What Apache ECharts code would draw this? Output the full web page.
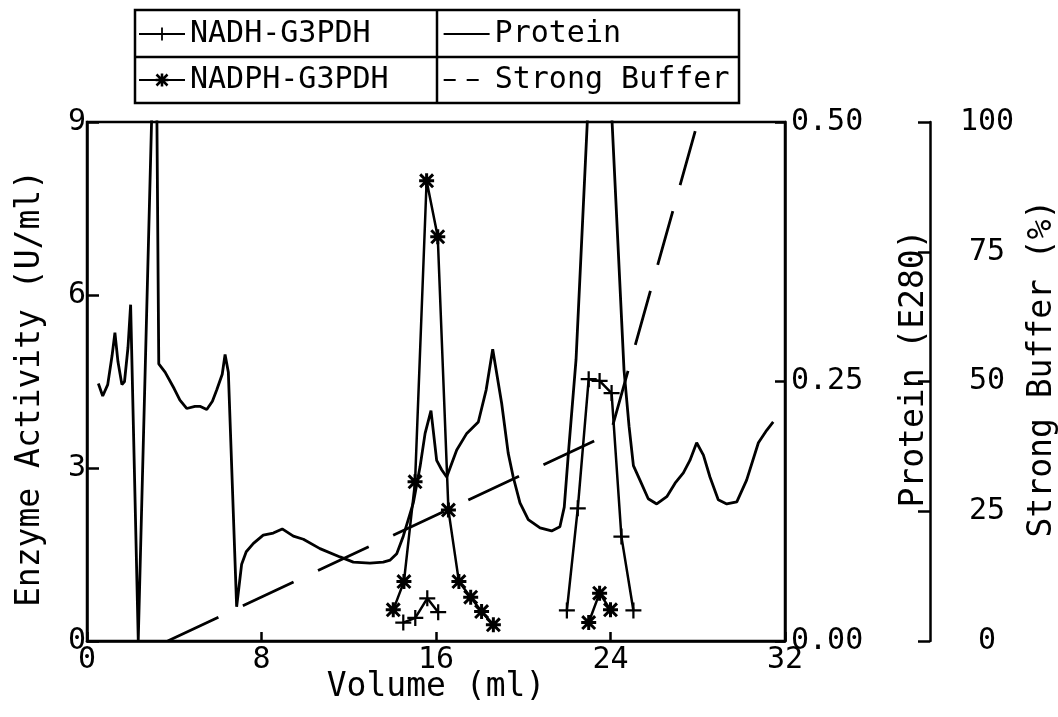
<!DOCTYPE html>
<html><head><meta charset="utf-8">
<script src="https://cdn.jsdelivr.net/npm/echarts@6/dist/echarts.min.js"></script>
<style>html,body{margin:0;padding:0;background:#fff}#chart{width:1058px;height:717px}</style>
</head><body><div id="chart"></div>
<script>
// ---- data ----
const proteinVolume = [0.52,0.72,0.95,1.15,1.28,1.42,1.6,1.72,1.88,2.0,2.35,3.15,3.29,3.58,4.0,4.26,4.57,4.95,5.2,5.49,5.75,5.95,6.2,6.33,6.48,6.86,7.09,7.3,7.63,8.08,8.54,8.95,9.46,9.92,10.68,11.6,12.21,12.97,13.58,13.9,14.2,14.5,14.96,15.27,15.5,15.77,16.03,16.26,16.49,16.95,17.41,17.94,18.3,18.6,19.01,19.31,19.54,19.85,20.23,20.77,21.3,21.68,21.88,22.07,22.42,23.5,24.62,24.85,25.05,25.35,25.73,26.12,26.58,26.96,27.34,27.64,27.95,28.26,28.56,28.94,29.33,29.79,30.24,30.78,31.16,31.46];
const proteinE280 = [0.248,0.236,0.247,0.275,0.297,0.269,0.247,0.25,0.283,0.324,0.001,0.656,0.267,0.259,0.243,0.232,0.224,0.226,0.226,0.223,0.231,0.242,0.257,0.276,0.259,0.033,0.074,0.086,0.094,0.102,0.104,0.108,0.101,0.098,0.089,0.081,0.076,0.075,0.076,0.078,0.084,0.101,0.133,0.168,0.2,0.222,0.174,0.165,0.158,0.184,0.2,0.211,0.242,0.281,0.229,0.181,0.158,0.133,0.117,0.109,0.106,0.11,0.129,0.181,0.271,0.75,0.261,0.207,0.169,0.155,0.137,0.132,0.139,0.152,0.162,0.174,0.191,0.179,0.158,0.136,0.132,0.134,0.155,0.191,0.203,0.211];

const nadhVolume1 = [14.5, 15.05, 15.6, 16.1];
const nadhActivity1 = [0.32, 0.40, 0.74, 0.50];
const nadhVolume2 = [22.0, 22.5, 23.0, 23.5, 24.05, 24.5, 25.05];
const nadhActivity2 = [0.53, 2.30, 4.54, 4.51, 4.30, 1.81, 0.53];

const nadphVolume1 = [14.04, 14.53, 15.04, 15.57, 16.08, 16.57, 17.05, 17.59, 18.09, 18.63];
const nadphActivity1 = [0.54, 1.03, 2.76, 7.98, 7.01, 2.27, 1.03, 0.76, 0.51, 0.28];
const nadphVolume2 = [23.0, 23.5, 24.0];
const nadphActivity2 = [0.32, 0.83, 0.54];

const bufferVolume = [3.7, 24, 28];
const bufferPercent = [0, 40, 100];

const seriesNames = ['NADH-G3PDH', 'NADPH-G3PDH', 'Protein', 'Strong Buffer'];
const axisNames = ['Volume (ml)', 'Enzyme Activity (U/ml)', 'Protein (E280)', 'Strong Buffer (%)'];

// ---- helpers ----
const zip = (xs, ys) => xs.map((x, i) => [x, ys[i]]);
const gap = ['-', '-'];
const FONT = "'DejaVu Sans Mono', monospace";
const INK = '#000';
const plusPath = 'path://M0,8.6 H20 V11.4 H0 Z M8.6,0 H11.4 V20 H8.6 Z';
const starPath = 'path://M0,8 H20 V12 H0 Z M8,0 H12 V20 H8 Z M0,2.8 L2.8,0 L20,17.2 L17.2,20 Z M17.2,0 L20,2.8 L2.8,20 L0,17.2 Z';

const chart = echarts.init(document.getElementById('chart'), null, {renderer: 'canvas'});
const axisLine = {show: true, onZero: false, lineStyle: {color: INK, width: 2.5}};
const tick = (len) => ({show: true, inside: true, length: len, lineStyle: {color: INK, width: 2.5}});
const label = (extra) => Object.assign({color: INK, fontSize: 30, fontFamily: FONT}, extra);
const nameStyle = (extra) => Object.assign({color: INK, fontSize: 33, fontFamily: FONT}, extra);
const legendText = {color: INK, fontSize: 30, fontFamily: FONT, lineHeight: 32};
const hiddenSymbol = () => ({color: INK, opacity: 0, borderWidth: 0});

chart.setOption({
  animation: false,
  backgroundColor: '#fff',
  grid: {left: 87, right: 273, top: 122, bottom: 76, show: true, borderColor: INK, borderWidth: 2.5,
         containLabel: false, outerBoundsMode: 'none'},
  legend: [
    {data: [seriesNames[0], {name: seriesNames[2], itemStyle: hiddenSymbol(), lineStyle: {type: 'solid'}}],
     left: 138, top: 18, itemWidth: 46, itemHeight: 16, itemGap: 72,
     padding: 0, textStyle: legendText, selectedMode: false},
    {data: [seriesNames[1], {name: seriesNames[3], itemStyle: hiddenSymbol(), lineStyle: {type: [12, 11]}}],
     left: 138, top: 64, itemWidth: 46, itemHeight: 16, itemGap: 54,
     padding: 0, textStyle: legendText, selectedMode: false}
  ],
  graphic: [
    {type: 'rect', shape: {x: 135, y: 10, width: 604, height: 93}, style: {fill: 'none', stroke: INK, lineWidth: 2.5}, silent: true},
    {type: 'line', shape: {x1: 135, y1: 57, x2: 739, y2: 57}, style: {stroke: INK, lineWidth: 2.5}, silent: true},
    {type: 'line', shape: {x1: 437, y1: 10, x2: 437, y2: 103}, style: {stroke: INK, lineWidth: 2.5}, silent: true}
  ],
  xAxis: {
    type: 'value', min: 0, max: 32, interval: 8,
    axisLine: axisLine, axisTick: tick(9), splitLine: {show: false},
    axisLabel: label({margin: 4}),
    name: axisNames[0], nameLocation: 'middle', nameGap: 30, nameMoveOverlap: false,
    nameTextStyle: nameStyle({})
  },
  yAxis: [
    {type: 'value', position: 'left', min: 0, max: 9, interval: 3,
     axisLine: axisLine, axisTick: tick(12), splitLine: {show: false},
     axisLabel: label({margin: 1}),
     name: axisNames[1], nameLocation: 'middle', nameGap: 40, nameMoveOverlap: false,
     nameTextStyle: nameStyle({padding: [0, 14, 0, 0]})},
    {type: 'value', position: 'right', offset: 0, min: 0, max: 0.5, interval: 0.25,
     axisLine: axisLine, axisTick: tick(10), splitLine: {show: false},
     axisLabel: label({margin: 6, formatter: v => v.toFixed(2)}),
     name: axisNames[2], nameLocation: 'middle', nameGap: 113, nameRotate: 90, nameMoveOverlap: false,
     nameTextStyle: nameStyle({padding: [0, 0, 0, 26]})},
    {type: 'value', position: 'right', offset: 145, min: 0, max: 100, interval: 25,
     axisLine: axisLine, axisTick: tick(12), splitLine: {show: false},
     axisLabel: label({margin: 57, align: 'center'}),
     name: axisNames[3], nameLocation: 'middle', nameGap: 96, nameRotate: 90, nameMoveOverlap: false,
     nameTextStyle: nameStyle({padding: [0, 0, 0, 26]})}
  ],
  series: [
    {name: seriesNames[0], type: 'line', yAxisIndex: 0,
     data: zip(nadhVolume1, nadhActivity1).concat([gap], zip(nadhVolume2, nadhActivity2)),
     symbol: plusPath, symbolSize: 16, showAllSymbol: true, connectNulls: false,
     lineStyle: {color: INK, width: 2.5}, itemStyle: {color: INK}},
    {name: seriesNames[1], type: 'line', yAxisIndex: 0,
     data: zip(nadphVolume1, nadphActivity1).concat([gap], zip(nadphVolume2, nadphActivity2)),
     symbol: starPath, symbolSize: 15, showAllSymbol: true, connectNulls: false,
     lineStyle: {color: INK, width: 2.5}, itemStyle: {color: INK}},
    {name: seriesNames[2], type: 'line', yAxisIndex: 1,
     data: zip(proteinVolume, proteinE280), showSymbol: false, clip: true,
     lineStyle: {color: INK, width: 2.8, type: 'solid'}, itemStyle: {color: INK}},
    {name: seriesNames[3], type: 'line', yAxisIndex: 2,
     data: zip(bufferVolume, bufferPercent), showSymbol: false, clip: true,
     lineStyle: {color: INK, width: 2.8, type: [56, 27]}, itemStyle: {color: INK}}
  ]
});
</script></body></html>
